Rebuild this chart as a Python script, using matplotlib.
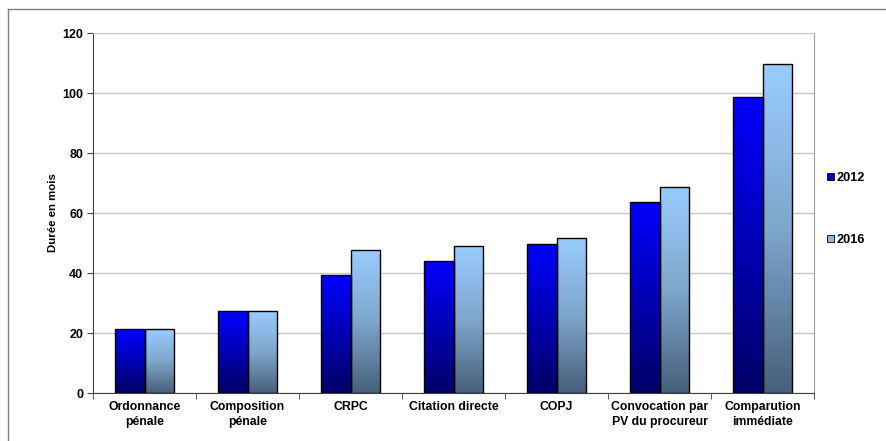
import numpy as np
import matplotlib
matplotlib.use("Agg")
from matplotlib import pyplot as plt
from matplotlib.patches import Patch
from matplotlib.colors import LinearSegmentedColormap
from matplotlib.lines import Line2D

plt.rcParams['font.family'] = ['Liberation Sans', 'DejaVu Sans']
plt.rcParams['font.weight'] = 'bold'

categories = ['Ordonnance\npénale', 'Composition\npénale', 'CRPC', 'Citation directe',
              'COPJ', 'Convocation par\nPV du procureur', 'Comparution\nimmédiate']
years = ['2012', '2016']
v2012 = [21.2, 27.2, 39.2, 43.9, 49.8, 63.8, 98.7]
v2016 = [21.2, 27.5, 47.7, 48.9, 51.7, 68.7, 109.6]
yticks = [0, 20, 40, 60, 80, 100, 120]

# gradients: bottom colour -> top colour
cmaps = {
    '2012': LinearSegmentedColormap.from_list('c12', ['#000066', '#0000b4', '#0000ff']),
    '2016': LinearSegmentedColormap.from_list('c16', ['#45607a', '#7fa6cc', '#99ccff']),
}
legend_col = {'2012': '#0000cc', '2016': '#8ab8e6'}

fig = plt.figure(figsize=(8.86, 4.41), dpi=100)
ax = fig.add_axes([93/886, 1-393/441, (814-93)/886, (393-33)/441])

x = np.arange(len(categories))
w = 0.29
grad = np.linspace(0, 1, 256).reshape(-1, 1)
for k, (yr, vals) in enumerate(zip(years, [v2012, v2016])):
    bars = ax.bar(x + (k - 0.5) * w, vals, width=w, facecolor='none',
                  edgecolor='black', linewidth=1.0, zorder=3)
    for b in bars:
        x0, h = b.get_x(), b.get_height()
        im = ax.imshow(grad, cmap=cmaps[yr], origin='lower', aspect='auto',
                       extent=[x0, x0 + w, 0, h], zorder=2)
        im.set_clip_path(b)

ax.set_xlim(-0.5, len(categories) - 0.5)
ax.set_ylim(0, 120)
ax.set_yticks(yticks)
ax.yaxis.grid(True, color='#c8c8c8', linewidth=1.0)
ax.set_axisbelow(True)
ax.set_xticks(x)
ax.set_xticklabels(categories, fontsize=8.8, fontweight='bold', linespacing=1.3)
ax.set_xticks(np.arange(len(categories) + 1) - 0.5, minor=True)
ax.tick_params(axis='x', which='major', length=0, pad=6)
ax.tick_params(axis='x', which='minor', length=4, color='#404040')
ax.tick_params(axis='y', length=4, color='#404040', labelsize=9, pad=3)
for lbl in ax.get_yticklabels():
    lbl.set_fontweight('bold')
ax.spines['left'].set_color('#404040')
ax.spines['bottom'].set_color('#404040')
ax.spines['top'].set_color('#c8c8c8')
ax.spines['right'].set_color('#a0a0a0')
ax.set_ylabel('Durée en mois', fontsize=8.2, fontweight='bold', labelpad=3)

handles = [Patch(facecolor=legend_col[y], edgecolor='black', linewidth=0.6, label=y) for y in years]
fig.legend(handles=handles, loc='center left', bbox_to_anchor=(827/886, 1-209/441),
           frameon=False, fontsize=9.2, handlelength=0.55, handleheight=0.55,
           handletextpad=0.2, labelspacing=3.9, borderpad=0, borderaxespad=0)

# outer chart frame
fig.add_artist(Line2D([8/886, 8/886], [0, 1-9/441], color='#808080', lw=1))
fig.add_artist(Line2D([8/886, 1], [1-9/441, 1-9/441], color='#808080', lw=1))

fig.savefig('out.png', dpi=100)
